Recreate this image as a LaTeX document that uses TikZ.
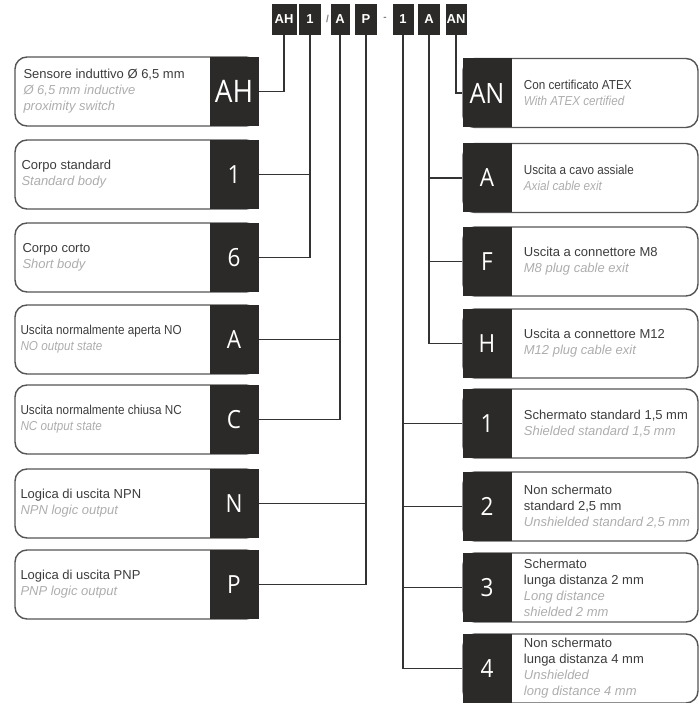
\documentclass[tikz,border=0pt]{standalone}
\usepackage{fontspec}
\setmainfont{Liberation Sans}
\newfontfamily\narrowfont{Liberation Sans}[FakeStretch=0.9]
\newfontfamily\keyfont{Open Sans}[FakeStretch=0.9]
\usetikzlibrary{positioning}
\definecolor{keydark}{HTML}{2B2A29}
\definecolor{textdark}{HTML}{3C3C3C}
\definecolor{textsoft}{HTML}{ADADAD}
\definecolor{rimgray}{HTML}{555555}
\definecolor{linkgray}{HTML}{333333}
\newcommand{\engl}[1]{{\color{textsoft}\itshape #1}}
\tikzset{
 codebox/.style={fill=keydark,text=white,minimum height=31pt,inner sep=0pt,
  font=\fontsize{13}{13}\selectfont\bfseries},
 lpanel/.style={draw=rimgray,line width=1.4pt,rounded corners=12pt,
  minimum width=243pt,minimum height=69pt,inner sep=0pt},
 rpanel/.style={lpanel,minimum width=235pt},
 keybox/.style={fill=keydark,text=white,minimum width=49pt,minimum height=69pt,
  inner sep=0pt,font=\keyfont\fontsize{25}{25}\selectfont},
 blurb/.style={align=left,inner sep=0pt,text=textdark,font=\fontsize{13}{16}\selectfont},
 link/.style={draw=linkgray,line width=1.8pt}
}
\begin{document}
\begin{tikzpicture}[x=1pt,y=-1pt]
\useasboundingbox (0,0) rectangle (700,703);
% code strip
\foreach \n/\x/\w/\t in {cAH/284/25/AH,cBody/310/22/1,cOut/340/19/A,cLog/366/22/P,
 cRange/403/21/1,cExit/429/22/A,cAtex/456/21/AN}
 \node[codebox,minimum width=\w pt] (\n) at (\x,19.5) {\t};
\node[text=gray,font=\bfseries] (sepSlash) at (327.5,19) {/};
\node[text=gray,font=\bfseries] (sepDash) at (385,19) {-};
% left column
\node[lpanel] (pAH) at (136.5,91.5) {};
\node[keybox,anchor=east,font=\keyfont\fontsize{31}{31}\selectfont] (kAH) at (pAH.east) {AH};
\node[blurb,anchor=west] at ([xshift=9pt]pAH.west) {Sensore induttivo Ø 6,5 mm\\\engl{Ø 6,5 mm inductive}\\\engl{proximity switch}};
\node[lpanel] (pOne) at (136.5,174.5) {};
\node[keybox,anchor=east] (kOne) at (pOne.east) {1};
\node[blurb,anchor=west] at ([xshift=7pt]pOne.west) {Corpo standard\\\engl{Standard body}};
\node[lpanel] (pSix) at (136.5,257.5) {};
\node[keybox,anchor=east] (kSix) at (pSix.east) {6};
\node[blurb,anchor=west] at ([xshift=8pt]pSix.west) {Corpo corto\\\engl{Short body}};
\node[lpanel] (pA) at (136.5,339.5) {};
\node[keybox,anchor=east] (kA) at (pA.east) {A};
\node[blurb,anchor=west,font=\narrowfont\fontsize{13}{16}\selectfont] at ([xshift=6pt]pA.west) {Uscita normalmente aperta NO\\\engl{NO output state}};
\node[lpanel] (pC) at (136.5,419.5) {};
\node[keybox,anchor=east] (kC) at (pC.east) {C};
\node[blurb,anchor=west,font=\narrowfont\fontsize{13}{16}\selectfont] at ([xshift=6pt]pC.west) {Uscita normalmente chiusa NC\\\engl{NC output state}};
\node[lpanel] (pN) at (136.5,503.5) {};
\node[keybox,anchor=east] (kN) at (pN.east) {N};
\node[blurb,anchor=west] at ([xshift=6pt]pN.west) {Logica di uscita NPN\\\engl{NPN logic output}};
\node[lpanel] (pP) at (136.5,584.5) {};
\node[keybox,anchor=east] (kP) at (pP.east) {P};
\node[blurb,anchor=west] at ([xshift=6pt]pP.west) {Logica di uscita PNP\\\engl{PNP logic output}};
% right column
\node[rpanel] (rAN) at (580.5,93) {};
\node[keybox,anchor=west,font=\keyfont\fontsize{28}{28}\selectfont] (kAN) at (rAN.west) {AN};
\node[blurb,right=12pt of kAN,font=\narrowfont\fontsize{13}{16}\selectfont] {Con certificato ATEX\\\engl{With ATEX certified}};
\node[rpanel] (rAx) at (580.5,178) {};
\node[keybox,anchor=west] (kAx) at (rAx.west) {A};
\node[blurb,right=12pt of kAx,font=\narrowfont\fontsize{13}{16}\selectfont] {Uscita a cavo assiale\\\engl{Axial cable exit}};
\node[rpanel] (rF) at (580.5,261.5) {};
\node[keybox,anchor=west] (kF) at (rF.west) {F};
\node[blurb,right=12pt of kF] {Uscita a connettore M8\\\engl{M8 plug cable exit}};
\node[rpanel] (rH) at (580.5,343.5) {};
\node[keybox,anchor=west] (kH) at (rH.west) {H};
\node[blurb,right=12pt of kH] {Uscita a connettore M12\\\engl{M12 plug cable exit}};
\node[rpanel] (rS1) at (580.5,423.5) {};
\node[keybox,anchor=west] (kS1) at (rS1.west) {1};
\node[blurb,right=12pt of kS1] {Schermato standard 1,5 mm\\\engl{Shielded standard 1,5 mm}};
\node[rpanel] (rS2) at (580.5,506.5) {};
\node[keybox,anchor=west] (kS2) at (rS2.west) {2};
\node[blurb,right=12pt of kS2] {Non schermato\\standard 2,5 mm\\\engl{Unshielded standard 2,5 mm}};
\node[rpanel] (rS3) at (580.5,587.5) {};
\node[keybox,anchor=west] (kS3) at (rS3.west) {3};
\node[blurb,right=12pt of kS3] {Schermato\\lunga distanza 2 mm\\\engl{Long distance}\\\engl{shielded 2 mm}};
\node[rpanel] (rS4) at (580.5,668.5) {};
\node[keybox,anchor=west] (kS4) at (rS4.west) {4};
\node[blurb,right=12pt of kS4] {Non schermato\\lunga distanza 4 mm\\\engl{Unshielded}\\\engl{long distance 4 mm}};
% connectors
\foreach \a/\b in {kAH/cAH,kOne/cBody,kSix/cBody,kA/cOut,kC/cOut,kN/cLog,kP/cLog}
 \draw[link] (\a.east) -| (\b.south);
\foreach \a/\b in {kAN/cAtex,kAx/cExit,kF/cExit,kH/cExit,kS1/cRange,kS2/cRange,kS3/cRange,kS4/cRange}
 \draw[link] (\a.west) -| (\b.south);
\end{tikzpicture}
\end{document}
